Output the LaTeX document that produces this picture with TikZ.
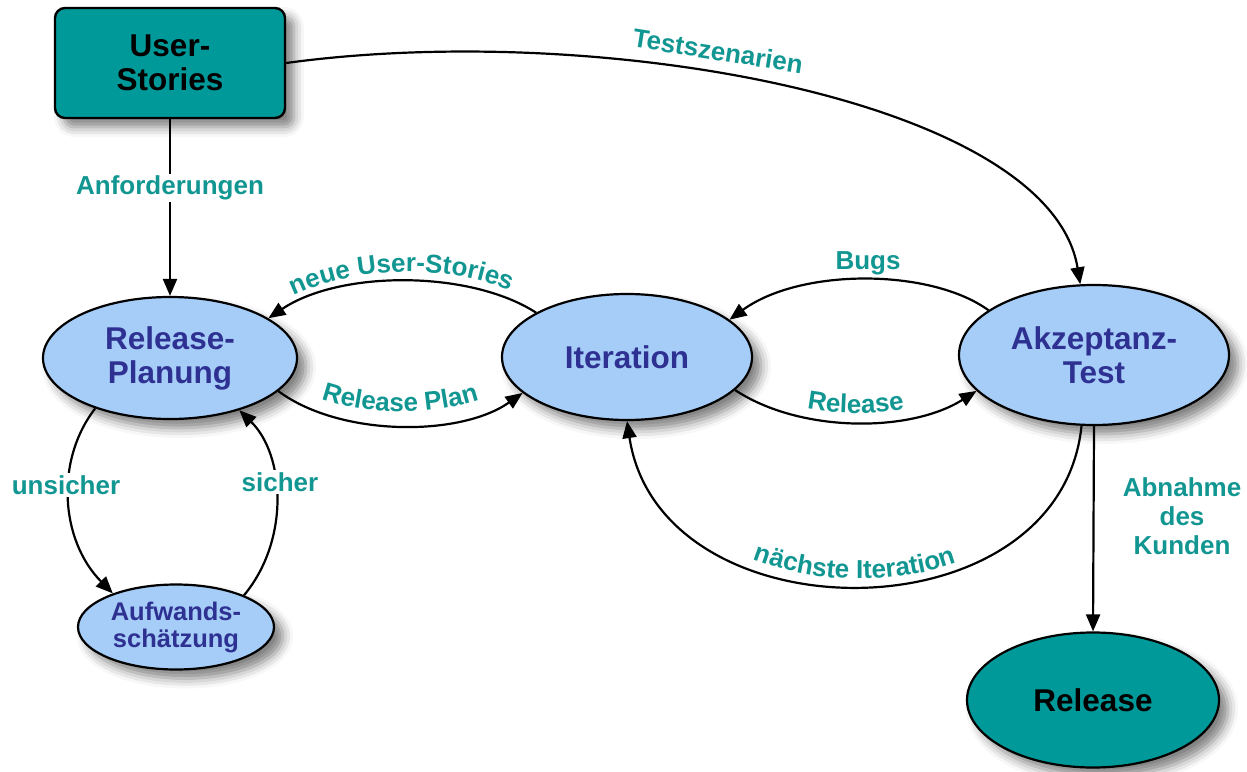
\documentclass[tikz,border=0pt]{standalone}
\usepackage{fontspec}
\setmainfont{Liberation Sans}
\usetikzlibrary{shapes.geometric,arrows.meta,decorations.text,shadows.blur}
\definecolor{teal1}{RGB}{0,153,153}
\definecolor{lblue}{RGB}{165,205,247}
\definecolor{dblue}{RGB}{46,49,146}
\definecolor{lab}{RGB}{18,150,146}
\newcommand{\labfont}{\fontsize{26}{29}\selectfont\bfseries}
\newcommand{\nodefont}{\fontsize{31.5}{34}\selectfont\bfseries}
\begin{document}
\begin{tikzpicture}[x=1pt,y=-1pt,
  shad/.style={blur shadow={shadow xshift=9pt,shadow yshift=-9pt,shadow blur radius=10pt,shadow opacity=50}},
  box/.style={rectangle,draw=black,line width=2.4pt,fill=teal1,rounded corners=10pt,minimum width=230pt,minimum height=110pt,align=center,font=\nodefont,text=black,shad},
  ell/.style={ellipse,draw=black,line width=2.2pt,fill=lblue,inner sep=0pt,align=center,font=\nodefont,text=dblue,shad},
  arr/.style={draw=black,line width=2.2pt,-{Triangle[length=17pt,width=14pt]}},
  lbl/.style={font=\labfont,text=lab,align=center,inner sep=2pt},
  lblw/.style={lbl,fill=white},
  curvedlbl/.style={decorate,decoration={text along path,text align=center}}
]
\useasboundingbox (0,0) rectangle (1247,771);

% nodes
\node[box] (us) at (170,63) {User-\\Stories};
\node[ell,minimum width=254pt,minimum height=122pt] (rp) at (170,358) {Release-\\Planung};
\node[ell,minimum width=196pt,minimum height=85pt,font=\fontsize{25.5}{27}\selectfont\bfseries] (aw) at (176,627) {Aufwands-\\schätzung};
\node[ell,minimum width=250pt,minimum height=126pt] (it) at (627,357) {Iteration};
\node[ell,minimum width=270pt,minimum height=140pt] (at) at (1094,355) {Akzeptanz-\\Test};
\node[ell,fill=teal1,text=black,minimum width=252pt,minimum height=135pt] (rel) at (1093,700) {Release};

% connectors
\draw[arr] (us.south) -- (rp.north);
\draw[arr] (us.east) .. controls (600,20) and (1050,100) .. (at.101);
\draw[arr] (it.154) .. controls (470,270) and (340,270) .. (rp.22);
\draw[arr] (rp.-17) .. controls (340,437) and (460,437) .. (it.199);
\draw[arr] (at.157) .. controls (930,268) and (800,268) .. (it.20);
\draw[arr] (it.-17) .. controls (800,433) and (910,433) .. (at.197);
\draw[arr] (at.260) .. controls (1060,640) and (660,640) .. (it.south);
\draw[arr] (at.south) -- (rel.north);
\draw[arr] (rp.214) .. controls (55,460) and (60,540) .. (aw.152);
\draw[arr] (aw.25) .. controls (290,540) and (285,455) .. (rp.-37);

% labels
\node[lblw] (lanf) at (170,188) {Anforderungen};
\node[lbl,rotate=-9] (ltest) at (718,51) {Testszenarien};
\node[lbl] (lbugs) at (868,263) {Bugs};
\node[lbl] (labn) at (1182,516) {Abnahme\\des\\Kunden};
\node[lblw] (lunsi) at (66,485) {unsicher};
\node[lblw] (lsich) at (280,482) {sicher};

\path[curvedlbl,decoration={text={|\labfont\color{lab}|neue User-Stories}}]
  ([yshift=8pt]rp.22) .. controls (340,260) and (470,260) .. ([yshift=8pt]it.154);
\path[curvedlbl,decoration={text={|\labfont\color{lab}|Release Plan}}]
  ([yshift=14pt]rp.-17) .. controls (340,423) and (460,423) .. ([yshift=14pt]it.199);
\path[curvedlbl,decoration={text={|\labfont\color{lab}|Release}}]
  ([yshift=9pt]it.-17) .. controls (800,424) and (910,424) .. ([yshift=9pt]at.197);
\path[curvedlbl,decoration={text={|\labfont\color{lab}|nächste Iteration}}]
  ([yshift=7pt]it.south) .. controls (660,633) and (1060,633) .. ([yshift=7pt]at.260);
\end{tikzpicture}
\end{document}
